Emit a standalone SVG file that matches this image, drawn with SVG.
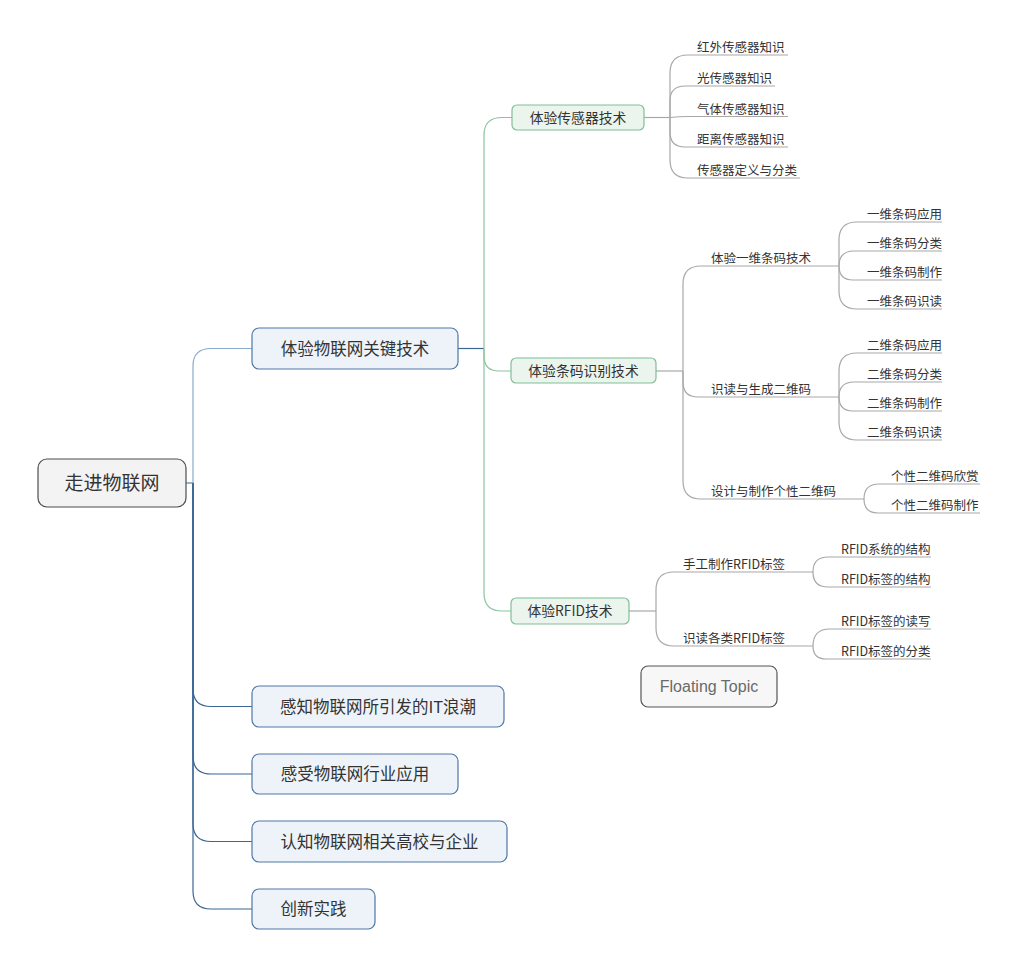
<svg xmlns="http://www.w3.org/2000/svg" width="1020" height="967" viewBox="0 0 1020 967">
<style>
text{font-family:"Noto Sans CJK SC","Liberation Sans",sans-serif;fill:#333}
.c{text-anchor:middle}
.root rect{fill:#f3f3f3;stroke:#4d4d4d;stroke-width:1.2}
.l1 rect{fill:#eef3fa;stroke:#4f77a6;stroke-width:1.2}
.l1 text{font-size:16.5px}
.l2 rect{fill:#ebf5ee;stroke:#80bf95;stroke-width:1.2}
.l2 text{font-size:13.8px}
.leaf text{font-size:12.5px}
.fl rect{fill:#f7f7f7;stroke:#555;stroke-width:1.2}
.fl text{font-family:"Liberation Sans",sans-serif;font-size:16px;fill:#6a6a6a}
#connectors path{fill:none;stroke-width:1.2}
.b{stroke:#3a6796}
.bl{stroke:#8aaace}
.g{stroke:#8cc49f}
.y{stroke:#a8a8a8}
</style>
<g id="connectors">
<path class="b" d="M186,483 H193 V689 Q193,706.5 211,706.5 H252"/>
<path class="b" d="M193,483 V756 Q193,774 211,774 H252"/>
<path class="b" d="M193,483 V823.5 Q193,841.5 211,841.5 H252"/>
<path class="b" d="M193,483 V891 Q193,909 211,909 H252"/>
<path class="bl" d="M193,483 V366 Q193,348.5 211,348.5 H252"/>
<path class="b" d="M458,348.5 H484"/>
<path class="g" d="M484,348.5 V135 Q484,117.5 502,117.5 H512"/>
<path class="g" d="M484,348.5 V356 Q484,371 499,371 H511"/>
<path class="g" d="M484,348.5 V593 Q484,611 502,611 H511"/>
<path class="y" d="M644,117.5 H670"/>
<path class="y" d="M670,117.5 V73 Q670,55 688,55 H788"/>
<path class="y" d="M670,117.5 V101 Q670,86 685,86 H775"/>
<path class="y" d="M670,117.5 Q679,116.5 688,116.5 H788"/>
<path class="y" d="M670,117.5 V132 Q670,147 685,147 H788"/>
<path class="y" d="M670,117.5 V160 Q670,178 688,178 H800"/>
<path class="y" d="M656,371 H683"/>
<path class="y" d="M683,371 V284 Q683,266 701,266 H839"/>
<path class="y" d="M683,371 V382 Q683,397 698,397 H839"/>
<path class="y" d="M683,371 V481 Q683,499 701,499 H864"/>
<path class="y" d="M839,266 V240 Q839,222 857,222 H942"/>
<path class="y" d="M839,266 Q839,251 854,251 H942"/>
<path class="y" d="M839,266 Q839,280 853,280 H942"/>
<path class="y" d="M839,266 V291 Q839,309 857,309 H942"/>
<path class="y" d="M839,397 V371 Q839,353 857,353 H942"/>
<path class="y" d="M839,397 Q839,382 854,382 H942"/>
<path class="y" d="M839,397 Q839,411 853,411 H942"/>
<path class="y" d="M839,397 V422 Q839,440 857,440 H942"/>
<path class="y" d="M864,499 Q864,484 879,484 H980"/>
<path class="y" d="M864,499 Q864,513 878,513 H980"/>
<path class="y" d="M629,611 H656"/>
<path class="y" d="M656,611 V590 Q656,572 674,572 H813"/>
<path class="y" d="M656,611 V628 Q656,646 674,646 H813"/>
<path class="y" d="M813,572 Q813,557 828,557 H931"/>
<path class="y" d="M813,572 Q813,587 828,587 H931"/>
<path class="y" d="M813,646 Q813,629 830,629 H931"/>
<path class="y" d="M813,646 Q813,659 826,659 H931"/>
</g>
<g id="root" class="root"><rect x="38" y="459" width="148" height="48" rx="9"/><text class="c" x="112" y="490" font-size="19">走进物联网</text></g>
<g id="n1" class="l1"><rect x="252" y="328" width="206" height="41" rx="7"/><text class="c" x="355" y="354.5">体验物联网关键技术</text></g>
<g id="n2" class="l1"><rect x="252" y="686" width="252" height="41" rx="7"/><text class="c" x="378" y="712.5">感知物联网所引发的IT浪潮</text></g>
<g id="n3" class="l1"><rect x="252" y="754" width="206" height="40" rx="7"/><text class="c" x="355" y="780">感受物联网行业应用</text></g>
<g id="n4" class="l1"><rect x="252" y="821" width="255" height="41" rx="7"/><text class="c" x="379.5" y="847.5">认知物联网相关高校与企业</text></g>
<g id="n5" class="l1"><rect x="252" y="889" width="123" height="40" rx="7"/><text class="c" x="313.5" y="915">创新实践</text></g>
<g id="g1" class="l2"><rect x="512" y="105" width="132" height="25" rx="5"/><text class="c" x="578" y="122.5">体验传感器技术</text></g>
<g id="g2" class="l2"><rect x="511" y="358" width="145" height="25" rx="5"/><text class="c" x="583.5" y="376">体验条码识别技术</text></g>
<g id="g3" class="l2"><rect x="511" y="598" width="118" height="26" rx="5"/><text class="c" x="570" y="616">体验RFID技术</text></g>
<g id="s1" class="leaf"><text x="697" y="52">红外传感器知识</text></g>
<g id="s2" class="leaf"><text x="697" y="83">光传感器知识</text></g>
<g id="s3" class="leaf"><text x="697" y="113.5">气体传感器知识</text></g>
<g id="s4" class="leaf"><text x="697" y="144">距离传感器知识</text></g>
<g id="s5" class="leaf"><text x="697" y="175">传感器定义与分类</text></g>
<g id="b1" class="leaf"><text x="711" y="263">体验一维条码技术</text></g>
<g id="b11" class="leaf"><text x="867" y="219">一维条码应用</text></g>
<g id="b12" class="leaf"><text x="867" y="248">一维条码分类</text></g>
<g id="b13" class="leaf"><text x="867" y="277">一维条码制作</text></g>
<g id="b14" class="leaf"><text x="867" y="306">一维条码识读</text></g>
<g id="b2" class="leaf"><text x="711" y="394">识读与生成二维码</text></g>
<g id="b21" class="leaf"><text x="867" y="350">二维条码应用</text></g>
<g id="b22" class="leaf"><text x="867" y="379">二维条码分类</text></g>
<g id="b23" class="leaf"><text x="867" y="408">二维条码制作</text></g>
<g id="b24" class="leaf"><text x="867" y="437">二维条码识读</text></g>
<g id="b3" class="leaf"><text x="711" y="496">设计与制作个性二维码</text></g>
<g id="b31" class="leaf"><text x="891" y="481">个性二维码欣赏</text></g>
<g id="b32" class="leaf"><text x="891" y="510">个性二维码制作</text></g>
<g id="r1" class="leaf"><text x="683" y="569">手工制作RFID标签</text></g>
<g id="r11" class="leaf"><text x="841" y="554">RFID系统的结构</text></g>
<g id="r12" class="leaf"><text x="841" y="584">RFID标签的结构</text></g>
<g id="r2" class="leaf"><text x="683" y="643">识读各类RFID标签</text></g>
<g id="r21" class="leaf"><text x="841" y="626">RFID标签的读写</text></g>
<g id="r22" class="leaf"><text x="841" y="656">RFID标签的分类</text></g>
<g id="float" class="fl"><rect x="641" y="666" width="136" height="41" rx="7"/><text class="c" x="709" y="692">Floating Topic</text></g>
</svg>
